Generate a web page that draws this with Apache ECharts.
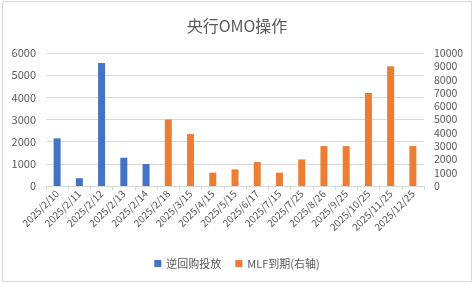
<!DOCTYPE html>
<html>
<head>
<meta charset="utf-8">
<script src="https://cdn.jsdelivr.net/npm/echarts@6/dist/echarts.min.js"></script>
<style>html,body{margin:0;padding:0;background:#fff}#c{width:474px;height:285px}</style>
</head>
<body>
<div id="c"></div>
<script>
var categories = ['2025/2/10','2025/2/11','2025/2/12','2025/2/13','2025/2/14','2025/2/18','2025/3/15','2025/4/15','2025/5/15','2025/6/17','2025/7/15','2025/7/25','2025/8/26','2025/9/25','2025/10/25','2025/11/25','2025/12/25'];
var reverseRepo = [2150, 350, 5550, 1275, 990, null, null, null, null, null, null, null, null, null, null, null, null];
var mlfMaturity = [null, null, null, null, null, 5000, 3900, 1000, 1250, 1800, 1000, 2000, 3000, 3000, 7000, 9000, 3000];
var leftTicks = [0, 6000, 1000];
var rightTicks = [0, 10000, 1000];

var font = '"Microsoft YaHei","Noto Sans CJK SC","Liberation Sans",sans-serif';
var plain = function (v) { return String(v); };
var chart = echarts.init(document.getElementById('c'), null, {renderer: 'canvas'});
chart.setOption({
  animation: false,
  backgroundColor: '#fff',
  graphic: [{
    type: 'rect', shape: {x: 2.5, y: 1.5, width: 469, height: 280},
    style: {fill: 'none', stroke: '#d9d9d9', lineWidth: 1}, silent: true
  }],
  title: {
    text: '央行OMO操作', left: 'center', top: 13,
    textStyle: {fontFamily: font, fontSize: 16, fontWeight: 'normal', color: '#595959'}
  },
  legend: {
    bottom: 11, left: 'center', itemWidth: 7, itemHeight: 7, itemGap: 14,
    textStyle: {fontFamily: font, fontSize: 11, color: '#595959'},
    data: [{name: '逆回购投放', icon: 'rect'}, {name: 'MLF到期(右轴)', icon: 'rect'}]
  },
  grid: {left: 46, right: 50, top: 53, bottom: 99},
  xAxis: {
    type: 'category', data: categories,
    axisLine: {lineStyle: {color: '#d9d9d9'}},
    axisTick: {show: true, length: 4, lineStyle: {color: '#d9d9d9'}},
    axisLabel: {rotate: 45, interval: 0, fontFamily: font, fontSize: 10, color: '#595959', margin: 6}
  },
  yAxis: [{
    type: 'value', min: leftTicks[0], max: leftTicks[1], interval: leftTicks[2],
    axisLine: {show: false}, axisTick: {show: false},
    splitLine: {lineStyle: {color: '#d9d9d9'}},
    axisLabel: {fontFamily: font, fontSize: 11, color: '#595959', margin: 10, formatter: plain}
  }, {
    type: 'value', min: rightTicks[0], max: rightTicks[1], interval: rightTicks[2],
    axisLine: {show: false}, axisTick: {show: false}, splitLine: {show: false},
    axisLabel: {fontFamily: font, fontSize: 10.5, color: '#595959', margin: 10, formatter: plain}
  }],
  series: [{
    name: '逆回购投放', type: 'bar', yAxisIndex: 0, data: reverseRepo,
    barWidth: 7, barGap: '-100%', itemStyle: {color: '#4472C4'}
  }, {
    name: 'MLF到期(右轴)', type: 'bar', yAxisIndex: 1, data: mlfMaturity,
    barWidth: 7, barGap: '-100%', itemStyle: {color: '#ED7D31'}
  }]
});
</script>
</body>
</html>
